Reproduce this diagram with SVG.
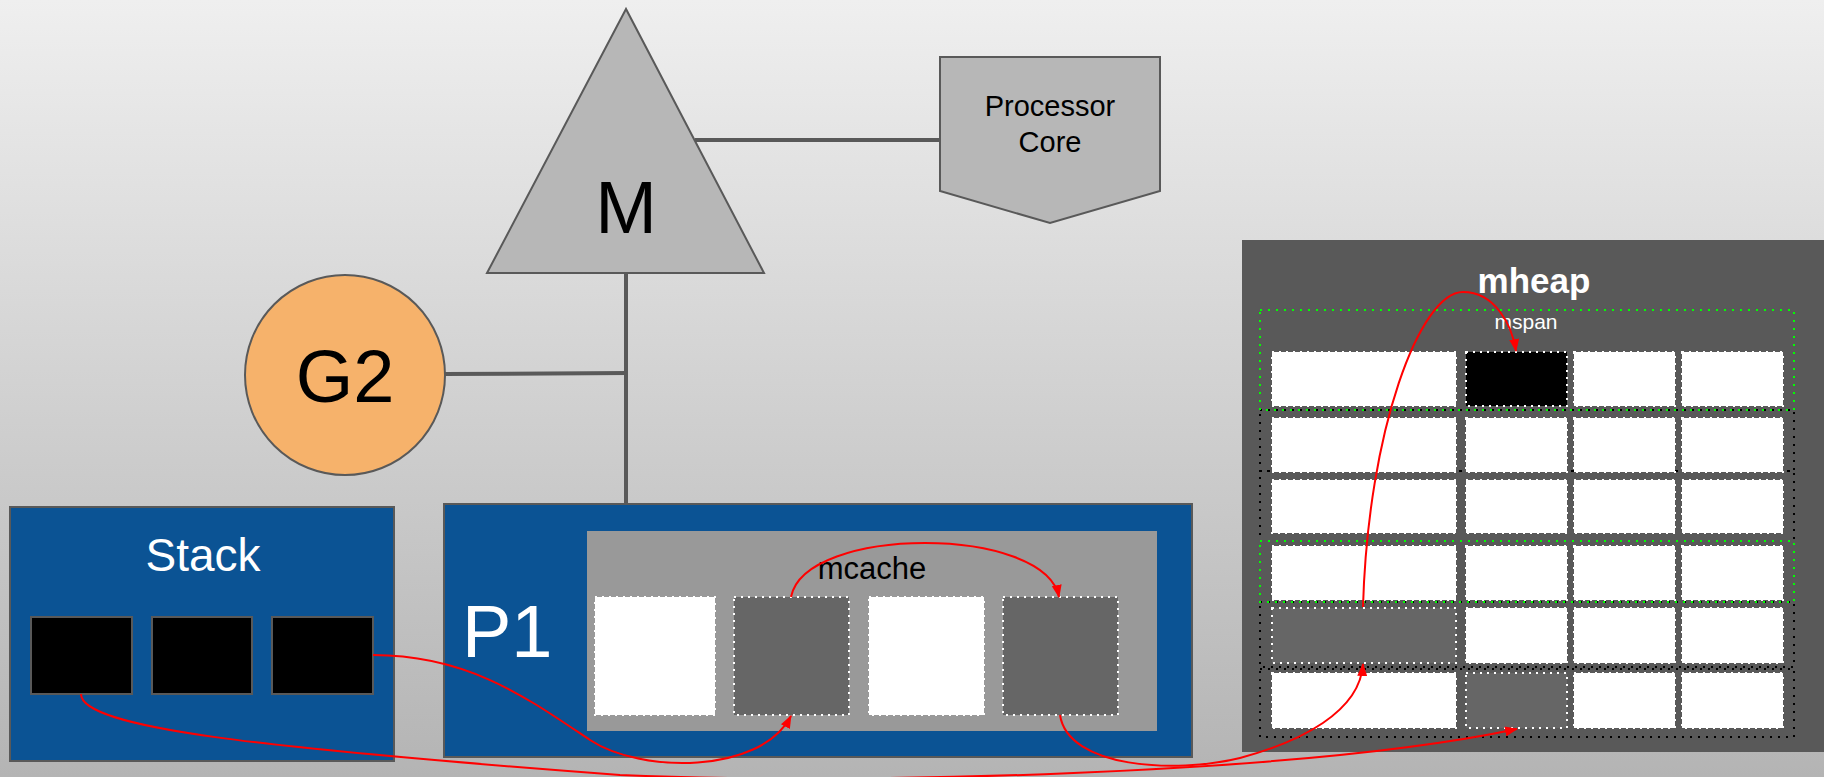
<svg xmlns="http://www.w3.org/2000/svg" width="1824" height="777" viewBox="0 0 1824 777">
<defs>
<linearGradient id="bg" x1="0" y1="0" x2="0" y2="1">
<stop offset="0" stop-color="#efefef"/>
<stop offset="1" stop-color="#b4b4b4"/>
</linearGradient>
<marker id="ah" markerWidth="13" markerHeight="10" refX="12" refY="5" orient="auto" markerUnits="userSpaceOnUse">
<path d="M0,0 L13,5 L0,10 z" fill="#ff0000"/>
</marker>
<style>
.t{font-family:"Liberation Sans",Arial,sans-serif}
.ln{stroke:#595959;stroke-width:4;fill:none}
.box{fill:#0b5394;stroke:#595959;stroke-width:2}
.sq{fill:#000;stroke:#595959;stroke-width:2}
.cw{fill:#fff;stroke:#fff;stroke-width:2;stroke-dasharray:2 5}
.cg{fill:#666;stroke:#fff;stroke-width:2;stroke-dasharray:2 5}
.ck{fill:#000;stroke:#fff;stroke-width:2;stroke-dasharray:2 5}
.gr{fill:none;stroke:#00ff00;stroke-width:2;stroke-dasharray:2 6}
.bk{fill:none;stroke:#000;stroke-width:2;stroke-dasharray:2 6}
.ar{fill:none;stroke:#ff0000;stroke-width:2;marker-end:url(#ah)}
</style>
</defs>
<rect x="0" y="0" width="1824" height="777" fill="url(#bg)"/>

<g id="lines">
<line class="ln" x1="695" y1="140" x2="940" y2="140"/>
<line class="ln" x1="626" y1="273" x2="626" y2="507"/>
<line class="ln" x1="444" y1="374" x2="628" y2="373"/>
</g>

<g id="M">
<polygon points="626,9 487,273 764,273" fill="#b7b7b7" stroke="#595959" stroke-width="2"/>
<text class="t" x="626" y="233" font-size="74" text-anchor="middle" fill="#000">M</text>
</g>

<g id="processor">
<polygon points="940,57 1160,57 1160,191 1050,223 940,191" fill="#b7b7b7" stroke="#595959" stroke-width="2"/>
<text class="t" x="1050" y="116" font-size="29" text-anchor="middle" fill="#000">Processor</text>
<text class="t" x="1050" y="152" font-size="29" text-anchor="middle" fill="#000">Core</text>
</g>

<g id="G2">
<circle cx="345" cy="375" r="100" fill="#f6b26b" stroke="#595959" stroke-width="2"/>
<text class="t" x="345" y="402" font-size="74" text-anchor="middle" fill="#000">G2</text>
</g>

<g id="stack">
<rect class="box" x="10" y="507" width="384" height="254"/>
<text class="t" x="203" y="571" font-size="46" text-anchor="middle" fill="#fff">Stack</text>
<rect class="sq" x="31" y="617" width="101" height="77"/>
<rect class="sq" x="152" y="617" width="100" height="77"/>
<rect class="sq" x="272" y="617" width="101" height="77"/>
</g>

<g id="P1">
<rect class="box" x="444" y="504" width="748" height="253"/>
<text class="t" x="462" y="657" font-size="74" fill="#fff">P1</text>
</g>

<g id="mcache">
<rect x="587" y="531" width="570" height="200" fill="#999999"/>
<text class="t" x="872" y="579" font-size="31" text-anchor="middle" fill="#000">mcache</text>
<rect class="cw" x="595" y="597" width="120" height="118"/>
<rect class="cg" x="734" y="597" width="115" height="118"/>
<rect class="cw" x="869" y="597" width="115" height="118"/>
<rect class="cg" x="1003" y="597" width="115" height="118"/>
</g>

<g id="mheap">
<rect x="1242" y="240" width="590" height="512" fill="#595959"/>
<text class="t" x="1534" y="293" font-size="35" font-weight="bold" text-anchor="middle" fill="#fff">mheap</text>
<text class="t" x="1526" y="329" font-size="21" text-anchor="middle" fill="#fff">mspan</text>
<rect class="bk" x="1260" y="410" width="534" height="61"/>
<rect class="bk" x="1260" y="471" width="534" height="70"/>
<rect class="bk" x="1260" y="602" width="534" height="65"/>
<rect class="bk" x="1260" y="669" width="534" height="68"/>
<rect class="gr" x="1260" y="310" width="534" height="100"/>
<rect class="gr" x="1260" y="541" width="534" height="61"/>
<g id="row1">
<rect class="cw" x="1272" y="352" width="184" height="54"/>
<rect class="ck" x="1466" y="352" width="101" height="54"/>
<rect class="cw" x="1574" y="352" width="101" height="54"/>
<rect class="cw" x="1682" y="352" width="101" height="54"/>
</g>
<g id="row2">
<rect class="cw" x="1272" y="418" width="184" height="54"/>
<rect class="cw" x="1466" y="418" width="101" height="54"/>
<rect class="cw" x="1574" y="418" width="101" height="54"/>
<rect class="cw" x="1682" y="418" width="101" height="54"/>
</g>
<g id="row3">
<rect class="cw" x="1272" y="480" width="184" height="53"/>
<rect class="cw" x="1466" y="480" width="101" height="53"/>
<rect class="cw" x="1574" y="480" width="101" height="53"/>
<rect class="cw" x="1682" y="480" width="101" height="53"/>
</g>
<g id="row4">
<rect class="cw" x="1272" y="546" width="184" height="54"/>
<rect class="cw" x="1466" y="546" width="101" height="54"/>
<rect class="cw" x="1574" y="546" width="101" height="54"/>
<rect class="cw" x="1682" y="546" width="101" height="54"/>
</g>
<g id="row5">
<rect class="cg" x="1272" y="608" width="184" height="55"/>
<rect class="cw" x="1466" y="608" width="101" height="55"/>
<rect class="cw" x="1574" y="608" width="101" height="55"/>
<rect class="cw" x="1682" y="608" width="101" height="55"/>
</g>
<g id="row6">
<rect class="cw" x="1272" y="673" width="184" height="55"/>
<rect class="cg" x="1466" y="673" width="101" height="55"/>
<rect class="cw" x="1574" y="673" width="101" height="55"/>
<rect class="cw" x="1682" y="673" width="101" height="55"/>
</g>
</g>

<g id="connectors">
<path class="ar" d="M 791 597 C 805 525, 1045 525, 1059 597"/>
<path class="ar" d="M 373 655 C 470 655, 530 700, 590 740 C 640 773, 760 775, 791 716"/>
<path class="ar" d="M 81 694 C 81 728, 260 748, 620 775 C 850 785, 1300 775, 1517 729"/>
<path class="ar" d="M 1060 715 C 1068 768, 1175 774, 1240 758 C 1300 742, 1360 712, 1363 664"/>
<path class="ar" d="M 1363 607 C 1368 430, 1420 292, 1463 292 C 1495 292, 1512 325, 1516 351"/>
</g>
</svg>
